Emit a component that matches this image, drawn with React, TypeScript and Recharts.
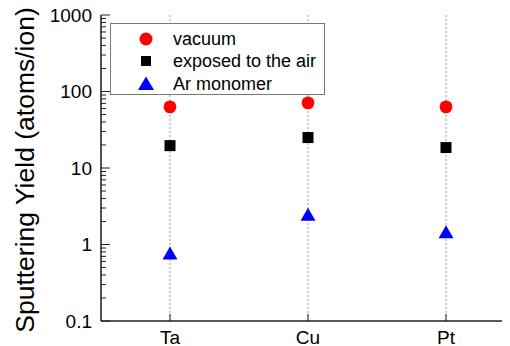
import { ComposedChart, Scatter, XAxis, YAxis, CartesianGrid } from 'recharts';

const categories = ['Ta', 'Cu', 'Pt'];
const vacuum = [63, 71, 63];
const exposedAir = [19.6, 25, 18.5];
const arMonomer = [0.76, 2.45, 1.45];

const majorTicks = [0.1, 1, 10, 100, 1000];
const minorTicks = [
  0.2, 0.3, 0.4, 0.5, 0.6, 0.7, 0.8, 0.9,
  2, 3, 4, 5, 6, 7, 8, 9,
  20, 30, 40, 50, 60, 70, 80, 90,
  200, 300, 400, 500, 600, 700, 800, 900,
];
const allTicks = [...majorTicks, ...minorTicks];

const data = categories.map((name, i) => ({
  name,
  vacuum: vacuum[i],
  air: exposedAir[i],
  ar: arMonomer[i],
}));

const FONT = '"Liberation Sans", Arial, sans-serif';
const AXIS = '#222';

const LeftTick = (props: any) => {
  const { x, y, payload } = props;
  const major = majorTicks.includes(payload.value);
  return (
    <g>
      <line x1={x} x2={x + (major ? 9 : 5)} y1={y} y2={y} stroke={AXIS} strokeWidth={1} />
      {major && (
        <text x={x - 9} y={y} textAnchor="end" dominantBaseline="central" fontSize={19} fontFamily={FONT} fill="#000">
          {payload.value}
        </text>
      )}
    </g>
  );
};

const RightTick = (props: any) => {
  const { x, y, payload } = props;
  const major = majorTicks.includes(payload.value);
  return <line x1={x} x2={x - (major ? 9 : 5)} y1={y} y2={y} stroke={AXIS} strokeWidth={1} />;
};

const BottomTick = (props: any) => {
  const { x, y, payload } = props;
  return (
    <g>
      <line x1={x} x2={x} y1={y} y2={y - 7} stroke={AXIS} strokeWidth={1} />
      <text x={x} y={y + 16} textAnchor="middle" dominantBaseline="central" fontSize={19} fontFamily={FONT} fill="#000">
        {payload.value}
      </text>
    </g>
  );
};

const TopTick = (props: any) => {
  const { x, y } = props;
  return <line x1={x} x2={x} y1={y} y2={y + 7} stroke={AXIS} strokeWidth={1} />;
};

const Circle = (p: any) => <circle cx={p.cx} cy={p.cy} r={6.4} fill="#ff0000" />;
const Square = (p: any) => <rect x={p.cx - 5.5} y={p.cy - 5.5} width={11} height={11} fill="#000" />;
const Triangle = (p: any) => (
  <polygon
    points={`${p.cx},${p.cy - 7} ${p.cx - 7.5},${p.cy + 6} ${p.cx + 7.5},${p.cy + 6}`}
    fill="#0000ff"
  />
);

const legendItems = [
  { label: 'vacuum', icon: <circle cx={10} cy={10} r={6.5} fill="#ff0000" /> },
  { label: 'exposed to the air', icon: <rect x={5} y={5} width={10} height={10} fill="#000" /> },
  { label: 'Ar monomer', icon: <polygon points="10,2.5 2,16 18,16" fill="#0000ff" /> },
];

const LegendBox = () => (
  <div
    style={{
      position: 'absolute',
      left: 102,
      top: 15,
      width: 215,
      height: 72,
      boxSizing: 'border-box',
      background: '#fff',
      border: '1px solid #777',
      paddingTop: 3.5,
      fontFamily: FONT,
      fontSize: 18,
      color: '#000',
    }}
  >
    {legendItems.map((it) => (
      <div key={it.label} style={{ height: 22.5, display: 'flex', alignItems: 'center' }}>
        <svg width={20} height={20} style={{ marginLeft: 25 }}>
          {it.icon}
        </svg>
        <span style={{ marginLeft: 17, lineHeight: '22px' }}>{it.label}</span>
      </div>
    ))}
  </div>
);

export default function App() {
  return (
    <div style={{ position: 'relative', width: 520, height: 338 }}>
      <ComposedChart width={520} height={338} data={data} margin={{ top: 7, right: 13, bottom: 0, left: 0 }}>
        <CartesianGrid horizontal={false} stroke="#999" strokeDasharray="2 2" />
        <XAxis
          dataKey="name"
          height={25}
          padding={{ left: 69, right: 69 }}
          stroke={AXIS}
          strokeWidth={1.5}
          tickLine={false}
          tickSize={0}
          tickMargin={0}
          tick={<BottomTick />}
        />
        <XAxis
          xAxisId="top"
          dataKey="name"
          orientation="top"
          height={0}
          padding={{ left: 69, right: 69 }}
          stroke={AXIS}
          strokeWidth={1.5}
          tickLine={false}
          tickSize={0}
          tickMargin={0}
          tick={<TopTick />}
        />
        <YAxis
          scale="log"
          domain={[0.1, 1000]}
          allowDataOverflow
          ticks={allTicks}
          interval={0}
          width={93}
          stroke={AXIS}
          strokeWidth={1.5}
          tickLine={false}
          tickSize={0}
          tickMargin={0}
          tick={<LeftTick />}
          label={{
            value: 'Sputtering Yield (atoms/ion)',
            position: 'insideLeft',
            content: ({ viewBox }: any) => {
              const cx = viewBox.x + 17;
              const cy = viewBox.y + viewBox.height / 2 + 2;
              return (
                <text
                  x={cx}
                  y={cy}
                  transform={`rotate(-90 ${cx} ${cy})`}
                  textAnchor="middle"
                  dominantBaseline="central"
                  fontSize={26.5}
                  fontFamily={FONT}
                  fill="#000"
                >
                  Sputtering Yield (atoms/ion)
                </text>
              );
            },
          }}
        />
        <YAxis
          yAxisId="right"
          orientation="right"
          scale="log"
          domain={[0.1, 1000]}
          allowDataOverflow
          ticks={allTicks}
          interval={0}
          width={0}
          stroke={AXIS}
          strokeWidth={1.5}
          tickLine={false}
          tickSize={0}
          tickMargin={0}
          tick={<RightTick />}
        />
        <Scatter name="vacuum" dataKey="vacuum" shape={Circle} isAnimationActive={false} />
        <Scatter name="exposed to the air" dataKey="air" shape={Square} isAnimationActive={false} />
        <Scatter name="Ar monomer" dataKey="ar" shape={Triangle} isAnimationActive={false} />
      </ComposedChart>
      <LegendBox />
    </div>
  );
}
